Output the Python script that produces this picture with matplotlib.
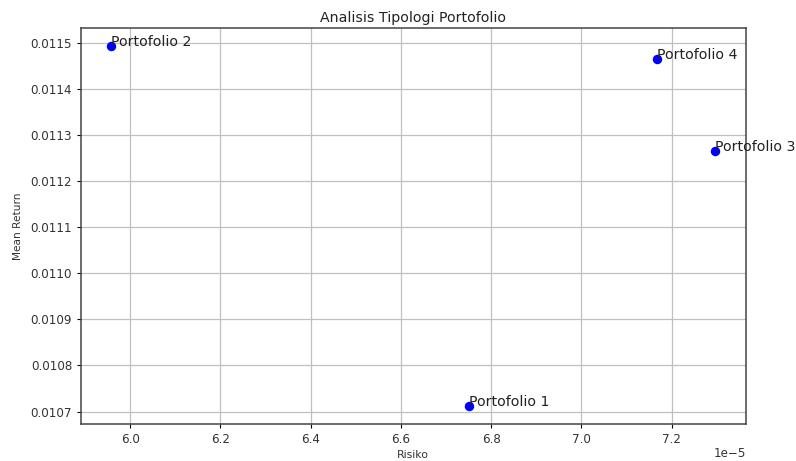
import matplotlib
matplotlib.use("Agg")
import matplotlib.pyplot as plt

labels = ["Portofolio 1", "Portofolio 2", "Portofolio 3", "Portofolio 4"]
risiko = [6.751e-5, 5.958e-5, 7.297e-5, 7.1675e-5]
mean_return = [0.010712, 0.011493, 0.011266, 0.011465]
offset_label = "1e\u22125"

fig = plt.figure(figsize=(7.96, 4.61), dpi=100)
ax = fig.add_axes([0.1018, 0.0803, 0.835, 0.859])
ax.plot(risiko, mean_return, 'o', color='blue', markersize=5.8, linestyle='none')
for x, y, t in zip(risiko, mean_return, labels):
    ax.text(x, y, t, fontsize=10.2, color='#222222')
ax.set_title("Analisis Tipologi Portofolio", fontsize=10.2, pad=4.5, color='#222222')
ax.set_xlabel("Risiko", fontsize=7.8, labelpad=3, color='#333333')
ax.set_ylabel("Mean Return", fontsize=7.6, labelpad=5, color='#333333')
ax.tick_params(labelsize=8.6, length=3, labelcolor='#333333')
ax.xaxis.get_offset_text().set_visible(False)
fig.text(0.937, 1 - 453 / 461, offset_label, ha='right', va='center',
         fontsize=8.6, color='#333333')
ax.grid(True, color='#c0c0c0', linewidth=0.9)
ax.set_axisbelow(True)
for s in ax.spines.values():
    s.set_color('#444444')
    s.set_linewidth(1.1)
fig.savefig("out.png", dpi=100)
